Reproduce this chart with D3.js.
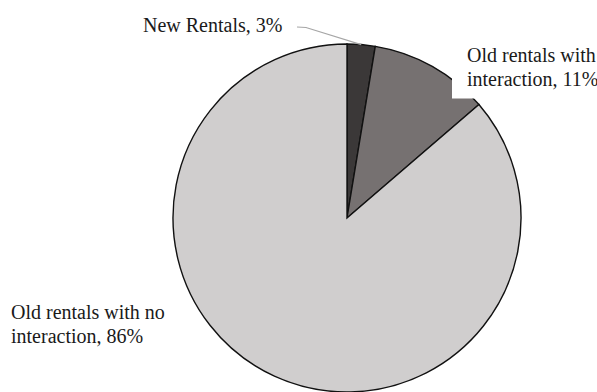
<!DOCTYPE html>
<html>
<head>
<meta charset="utf-8">
<script src="https://cdn.jsdelivr.net/npm/d3@7"></script>
<style>
  body { margin: 0; background: #fff; }
  svg { display: block; font-family: "Liberation Serif", "Times New Roman", serif; }
</style>
</head>
<body>
<div id="chart"></div>
<script>
// Data
const categories = ["New Rentals", "Old rentals with interaction", "Old rentals with no interaction"];
const values = [2.6, 11.1, 86.3];
const labelLines = [
  ["New Rentals, 3%"],
  ["Old rentals with", "interaction, 11%"],
  ["Old rentals with no", "interaction, 86%"],
];
const colors = ["#3b3838", "#767171", "#d0cece"];

const width = 597;
const height = 392;
const cx = 347;
const cy = 218;
const radius = 174;

const svg = d3.select("#chart")
  .append("svg")
  .attr("width", width)
  .attr("height", height);

const data = categories.map((c, i) => ({ label: c, value: values[i], color: colors[i], lines: labelLines[i] }));

const pie = d3.pie().sort(null).value((d) => d.value);
const arc = d3.arc().innerRadius(0).outerRadius(radius);
const arcs = pie(data);

const g = svg.append("g").attr("transform", `translate(${cx}, ${cy})`);

g.selectAll("path")
  .data(arcs)
  .join("path")
  .attr("d", arc)
  .attr("fill", (d) => d.data.color)
  .attr("stroke", "#111")
  .attr("stroke-width", 1.4)
  .attr("stroke-linejoin", "miter");

// label positions (absolute)
const labelPos = [
  { x: 143, y: 32, anchor: "start" },
  { x: 467, y: 62, anchor: "start", box: true },
  { x: 11, y: 319, anchor: "start" },
];
const lineHeight = 23.5;
const fontSize = 20;

// leader line for the small slice
const a0 = (arcs[0].startAngle + arcs[0].endAngle) / 2;
const tip = [cx + radius * Math.sin(a0), cy - radius * Math.cos(a0)];
svg.append("polyline")
  .attr("points", [[297, 27], [306, 27.5], tip].map((p) => p.join(",")).join(" "))
  .attr("fill", "none")
  .attr("stroke", "#a6a6a6")
  .attr("stroke-width", 1.2);

labelPos.forEach((p, i) => {
  const lines = data[i].lines;
  if (p.box) {
    svg.append("rect")
      .attr("x", p.x - 15)
      .attr("y", p.y - 22)
      .attr("width", width - (p.x - 15))
      .attr("height", 22 + lineHeight * (lines.length - 1) + 13)
      .attr("fill", "#fff");
  }
  const t = svg.append("text")
    .attr("x", p.x)
    .attr("y", p.y)
    .attr("text-anchor", p.anchor)
    .attr("font-size", fontSize)
    .attr("fill", "#1a1a1a");
  lines.forEach((l, j) => {
    t.append("tspan")
      .attr("x", p.x)
      .attr("y", p.y + j * lineHeight)
      .text(l);
  });
});
</script>
</body>
</html>
